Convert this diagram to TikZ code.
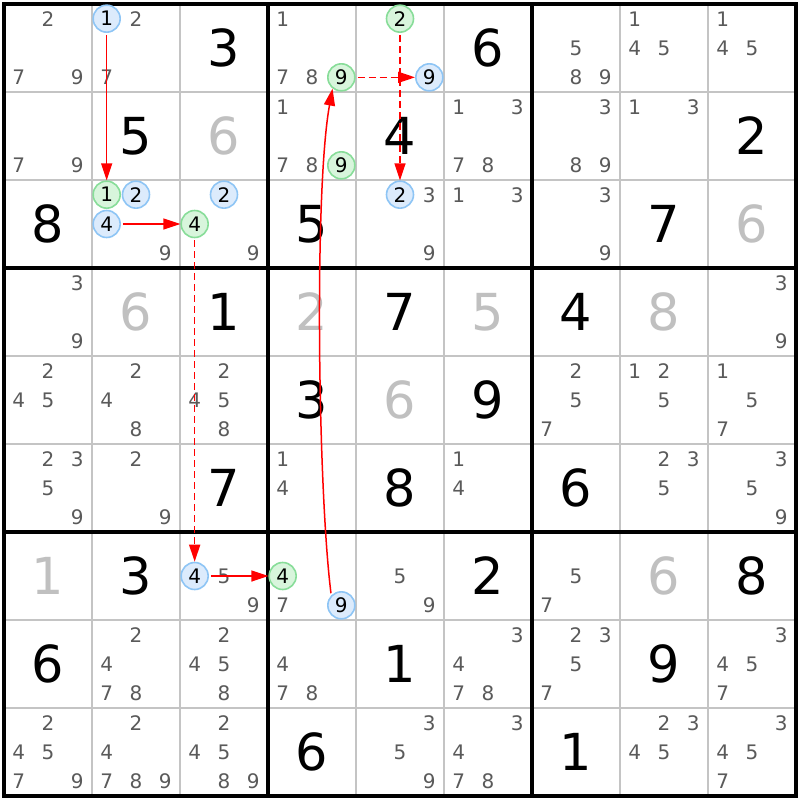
\documentclass[tikz,border=0pt]{standalone}
\usepackage{fontspec}
\setmainfont{DejaVu Sans}
\usetikzlibrary{arrows.meta}
\definecolor{candgray}{HTML}{5A5A5A}
\definecolor{givgray}{HTML}{C0C0C0}
\definecolor{gridgray}{HTML}{C4C4C4}
\definecolor{bluefill}{HTML}{DCEBFC}
\definecolor{blueline}{HTML}{8EC5F5}
\definecolor{greenfill}{HTML}{D8F5DC}
\definecolor{greenline}{HTML}{88DD99}
\tikzset{
  cand/.style={inner sep=0pt, text=candgray, font=\fontsize{20}{20}\selectfont},
  given/.style={inner sep=0pt, text=black, font=\fontsize{51}{51}\selectfont},
  givengray/.style={given, text=givgray},
  hlbase/.style={circle, inner sep=0pt, minimum size=27pt, line width=1.6pt, text=black, font=\fontsize{20}{20}\selectfont},
  hlblue/.style={hlbase, draw=blueline, fill=bluefill},
  hlgreen/.style={hlbase, draw=greenline, fill=greenfill},
  link/.style={draw=red, line width=1.5pt, -{Triangle[length=17pt,width=11pt]}, shorten <=2pt},
  weaklink/.style={link, dash pattern=on 7pt off 4pt},
  thinline/.style={draw=gridgray, line width=1.6pt},
  thickline/.style={draw=black, line width=3.2pt}
}
\newcommand\sdcands[3]{\foreach \d in {#3}{\node[cand] (k#1#2\d) at ({18.667+88*#2+29.333*mod(\d-1,3)},{19.2+88*#1+29*int((\d-1)/3)}) {\d};}}
\newcommand\sdgiven[4]{\node[#4] (g#1#2) at ({48+88*#2},{48+88*#1}) {#3};}
\newcommand\sdhl[5]{\node[#4] (#5) at ({18.667+88*#2+29.333*mod(#3-1,3)},{18.667+88*#1+29.333*int((#3-1)/3)}) {#3};}
\begin{document}
\begin{tikzpicture}[x=1pt,y=-1pt]
\useasboundingbox[fill=white] (0,0) rectangle (800,800);
% thin grid
\foreach \i in {1,2,4,5,7,8}{
  \draw[thinline] ({4+88*\i},4) -- ({4+88*\i},796);
  \draw[thinline] (4,{4+88*\i}) -- (796,{4+88*\i});
}
\foreach \i in {0,3,6,9}{
  \draw[thickline] ({4+88*\i},2.4) -- ({4+88*\i},797.6);
  \draw[thickline] (2.4,{4+88*\i}) -- (797.6,{4+88*\i});
}
% givens
\sdgiven{0}{2}{3}{given} \sdgiven{0}{5}{6}{given}
\sdgiven{1}{1}{5}{given} \sdgiven{1}{2}{6}{givengray} \sdgiven{1}{4}{4}{given} \sdgiven{1}{8}{2}{given}
\sdgiven{2}{0}{8}{given} \sdgiven{2}{3}{5}{given} \sdgiven{2}{7}{7}{given} \sdgiven{2}{8}{6}{givengray}
\sdgiven{3}{1}{6}{givengray} \sdgiven{3}{2}{1}{given} \sdgiven{3}{3}{2}{givengray} \sdgiven{3}{4}{7}{given}
\sdgiven{3}{5}{5}{givengray} \sdgiven{3}{6}{4}{given} \sdgiven{3}{7}{8}{givengray}
\sdgiven{4}{3}{3}{given} \sdgiven{4}{4}{6}{givengray} \sdgiven{4}{5}{9}{given}
\sdgiven{5}{2}{7}{given} \sdgiven{5}{4}{8}{given} \sdgiven{5}{6}{6}{given}
\sdgiven{6}{0}{1}{givengray} \sdgiven{6}{1}{3}{given} \sdgiven{6}{5}{2}{given} \sdgiven{6}{7}{6}{givengray} \sdgiven{6}{8}{8}{given}
\sdgiven{7}{0}{6}{given} \sdgiven{7}{4}{1}{given} \sdgiven{7}{7}{9}{given}
\sdgiven{8}{3}{6}{given} \sdgiven{8}{6}{1}{given}
% candidates
\sdcands{0}{0}{2,7,9} \sdcands{0}{1}{2,7} \sdcands{0}{3}{1,7,8} \sdcands{0}{6}{5,8,9} \sdcands{0}{7}{1,4,5} \sdcands{0}{8}{1,4,5}
\sdcands{1}{0}{7,9} \sdcands{1}{3}{1,7,8} \sdcands{1}{5}{1,3,7,8} \sdcands{1}{6}{3,8,9} \sdcands{1}{7}{1,3}
\sdcands{2}{1}{9} \sdcands{2}{2}{9} \sdcands{2}{4}{3,9} \sdcands{2}{5}{1,3} \sdcands{2}{6}{3,9}
\sdcands{3}{0}{3,9} \sdcands{3}{8}{3,9}
\sdcands{4}{0}{2,4,5} \sdcands{4}{1}{2,4,8} \sdcands{4}{2}{2,4,5,8} \sdcands{4}{6}{2,5,7} \sdcands{4}{7}{1,2,5} \sdcands{4}{8}{1,5,7}
\sdcands{5}{0}{2,3,5,9} \sdcands{5}{1}{2,9} \sdcands{5}{3}{1,4} \sdcands{5}{5}{1,4} \sdcands{5}{7}{2,3,5} \sdcands{5}{8}{3,5,9}
\sdcands{6}{2}{5,9} \sdcands{6}{3}{7} \sdcands{6}{4}{5,9} \sdcands{6}{6}{5,7}
\sdcands{7}{1}{2,4,7,8} \sdcands{7}{2}{2,4,5,8} \sdcands{7}{3}{4,7,8} \sdcands{7}{5}{3,4,7,8} \sdcands{7}{6}{2,3,5,7} \sdcands{7}{8}{3,4,5,7}
\sdcands{8}{0}{2,4,5,7,9} \sdcands{8}{1}{2,4,7,8,9} \sdcands{8}{2}{2,4,5,8,9} \sdcands{8}{4}{3,5,9} \sdcands{8}{5}{3,4,7,8} \sdcands{8}{7}{2,3,4,5} \sdcands{8}{8}{3,4,5,7}
% highlighted candidates
\sdhl{0}{1}{1}{hlblue}{a1}
\sdhl{2}{1}{1}{hlgreen}{b1}
\sdhl{2}{1}{2}{hlblue}{b2}
\sdhl{2}{1}{4}{hlblue}{b4}
\sdhl{2}{2}{2}{hlblue}{c2}
\sdhl{2}{2}{4}{hlgreen}{c4}
\sdhl{6}{2}{4}{hlblue}{d4}
\sdhl{6}{3}{4}{hlgreen}{e4}
\sdhl{6}{3}{9}{hlblue}{e9}
\sdhl{0}{3}{9}{hlgreen}{f9}
\sdhl{1}{3}{9}{hlgreen}{h9}
\sdhl{0}{4}{9}{hlblue}{i9}
\sdhl{0}{4}{2}{hlgreen}{i2}
\sdhl{2}{4}{2}{hlblue}{j2}
% links
\draw[link] (a1) -- (b1);
\draw[link] (b4) -- (c4);
\draw[weaklink] (c4) -- (d4);
\draw[link] (d4) -- (e4);
\draw[link] (e9.135) .. controls (318,490) and (314,190) .. (f9.232);
\draw[weaklink] (f9) -- (i9);
\draw[weaklink] (i2) -- (j2);
\end{tikzpicture}
\end{document}
